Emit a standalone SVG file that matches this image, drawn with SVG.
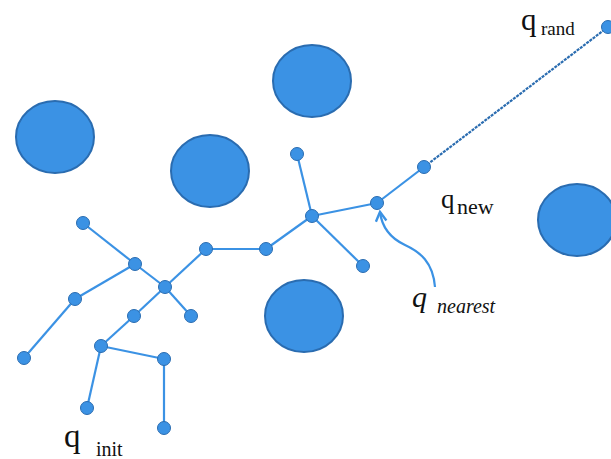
<svg xmlns="http://www.w3.org/2000/svg" width="611" height="459" viewBox="0 0 611 459">
  <style>
    .obstacle { fill: #3b92e4; stroke: #2a6cb0; stroke-width: 2; }
    .node { fill: #3b92e4; stroke: #2a6cb0; stroke-width: 1; }
    .edge { stroke: #3b92e4; stroke-width: 2.2; fill: none; }
    .dash { stroke: #2a6cb0; stroke-width: 2.2; stroke-dasharray: 3 1; fill: none; }
    text { fill: #111; font-family: "Liberation Serif", "Times New Roman", serif; }
  </style>
  <defs>
    <marker id="tip" viewBox="0 0 10 10" refX="8" refY="5" markerWidth="6" markerHeight="6" orient="auto">
      <path d="M1,1 L8,5 L1,9" fill="none" stroke="#3b92e4" stroke-width="1.8"/>
    </marker>
  </defs>
  <rect width="611" height="459" fill="#fff"/>

  <!-- obstacles -->
  <g id="obstacles">
    <ellipse class="obstacle" cx="55" cy="137" rx="39" ry="36"/>
    <ellipse class="obstacle" cx="210" cy="171" rx="39" ry="36"/>
    <ellipse class="obstacle" cx="312" cy="81" rx="39" ry="36"/>
    <ellipse class="obstacle" cx="304" cy="316" rx="39" ry="36"/>
    <ellipse class="obstacle" cx="577" cy="220" rx="39" ry="36"/>
  </g>

  <!-- tree edges -->
  <g id="connectors">
    <line class="edge" x1="83" y1="223" x2="135" y2="264"/>
    <line class="edge" x1="135" y1="264" x2="165" y2="287"/>
    <line class="edge" x1="135" y1="264" x2="75" y2="299"/>
    <line class="edge" x1="75" y1="299" x2="24" y2="358"/>
    <line class="edge" x1="165" y1="287" x2="206" y2="249"/>
    <line class="edge" x1="165" y1="287" x2="191" y2="316"/>
    <line class="edge" x1="165" y1="287" x2="134" y2="316"/>
    <line class="edge" x1="134" y1="316" x2="101" y2="346"/>
    <line class="edge" x1="101" y1="346" x2="164" y2="359"/>
    <line class="edge" x1="101" y1="346" x2="87" y2="408"/>
    <line class="edge" x1="164" y1="359" x2="164" y2="428"/>
    <line class="edge" x1="206" y1="249" x2="266" y2="249"/>
    <line class="edge" x1="266" y1="249" x2="312" y2="216"/>
    <line class="edge" x1="312" y1="216" x2="297" y2="154"/>
    <line class="edge" x1="312" y1="216" x2="363" y2="266"/>
    <line class="edge" x1="312" y1="216" x2="377" y2="203"/>
    <line class="edge" x1="377" y1="203" x2="424" y2="167"/>
    <line class="dash" x1="424" y1="167" x2="608" y2="27"/>
    <path class="edge" d="M435,287 C433,262 420,252 405,245 C390,238 382,228 380,212" marker-end="url(#tip)"/>
  </g>

  <!-- tree nodes -->
  <g id="nodes">
    <g id="n-init-a"><circle class="node" cx="87" cy="408" r="6.5"/></g>
    <g id="n-init-b"><circle class="node" cx="164" cy="428" r="6.5"/></g>
    <g id="n1"><circle class="node" cx="164" cy="359" r="6.5"/></g>
    <g id="n2"><circle class="node" cx="101" cy="346" r="6.5"/></g>
    <g id="n3"><circle class="node" cx="134" cy="316" r="6.5"/></g>
    <g id="n4"><circle class="node" cx="191" cy="316" r="6.5"/></g>
    <g id="n5"><circle class="node" cx="165" cy="287" r="6.5"/></g>
    <g id="n6"><circle class="node" cx="135" cy="264" r="6.5"/></g>
    <g id="n7"><circle class="node" cx="83" cy="223" r="6.5"/></g>
    <g id="n8"><circle class="node" cx="75" cy="299" r="6.5"/></g>
    <g id="n9"><circle class="node" cx="24" cy="358" r="6.5"/></g>
    <g id="n10"><circle class="node" cx="206" cy="249" r="6.5"/></g>
    <g id="n11"><circle class="node" cx="266" cy="249" r="6.5"/></g>
    <g id="n12"><circle class="node" cx="312" cy="216" r="6.5"/></g>
    <g id="n13"><circle class="node" cx="297" cy="154" r="6.5"/></g>
    <g id="n14"><circle class="node" cx="363" cy="266" r="6.5"/></g>
    <g id="q-nearest"><circle class="node" cx="377" cy="203" r="6.5"/></g>
    <g id="q-new"><circle class="node" cx="424" cy="167" r="6.5"/></g>
    <g id="q-rand"><circle class="node" cx="608" cy="27" r="6.5"/></g>
  </g>

  <!-- labels -->
  <g id="labels">
    <text x="521" y="30" font-size="31">q<tspan x="541" y="35" font-size="19">rand</tspan></text>
    <text x="441" y="208" font-size="27">q<tspan x="457" y="214" font-size="22">new</tspan></text>
    <text x="412" y="307" font-size="30" font-style="italic">q<tspan x="437" y="313" font-size="20">nearest</tspan></text>
    <text x="64" y="447" font-size="33">q<tspan x="96" y="456" font-size="20">init</tspan></text>
  </g>
</svg>
